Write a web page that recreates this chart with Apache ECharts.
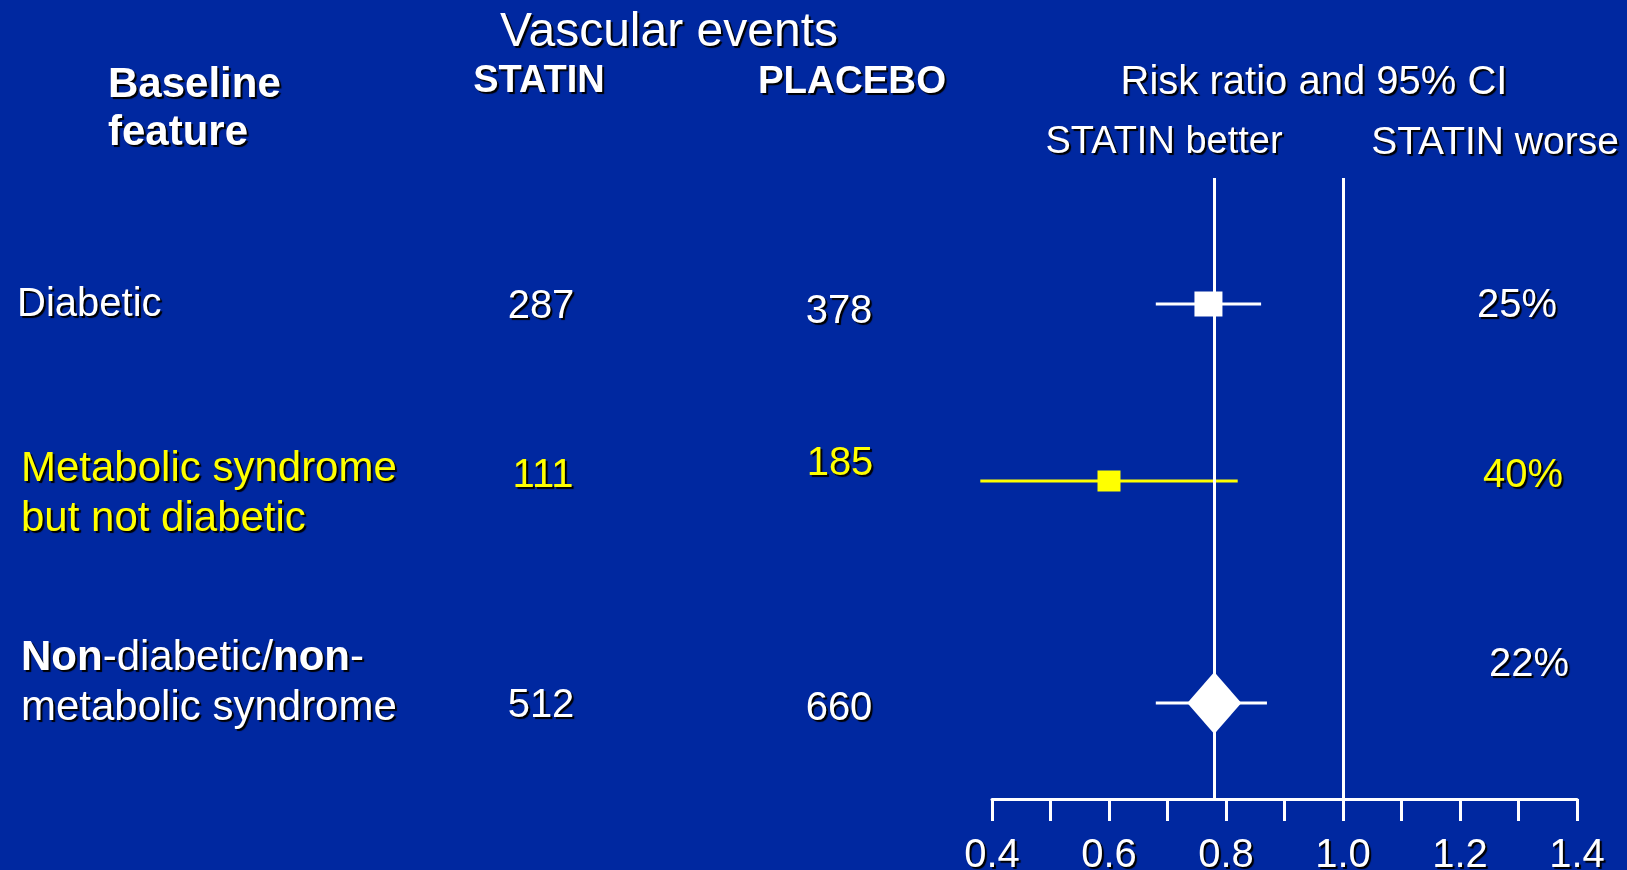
<!DOCTYPE html>
<html>
<head>
<meta charset="utf-8">
<script src="https://cdn.jsdelivr.net/npm/echarts@6/dist/echarts.min.js"></script>
<style>
html, body { margin: 0; padding: 0; background: #0028a0; }
#chart { width: 1627px; height: 870px; }
</style>
</head>
<body>
<div id="chart"></div>
<script>
// ---- data ----
const categories = ['Diabetic', 'Metabolic syndrome but not diabetic', 'Non-diabetic/non-metabolic syndrome'];
const statinEvents = [287, 111, 512];
const placeboEvents = [378, 185, 660];
const riskRatio = [0.77, 0.60, 0.78];
const ciLow = [0.68, 0.38, 0.68];
const ciHigh = [0.86, 0.82, 0.87];
const reduction = ['25%', '40%', '22%'];
const overallRR = 0.78;
const nullRR = 1.0;
const xMin = 0.4, xMax = 1.4, xStep = 0.1;
const tickLabels = ['0.4', '0.6', '0.8', '1.0', '1.2', '1.4'];

// ---- layout / style ----
const FONT = 'Liberation Sans, Arial, sans-serif';
const BG = '#0028a0';
const YELLOW = '#ffff00';
const rowColor = ['#ffffff', YELLOW, '#ffffff'];
const rowSymbol = ['rect', 'rect', 'diamond'];
const rowSymbolSize = [[28, 25], [23, 21], [54, 62]];
const rowCenterY = [304, 481, 703];
const rowLabelText = ['Diabetic', 'Metabolic syndrome\nbut not diabetic', '{b|Non}-diabetic/{b|non}-\nmetabolic syndrome'];
const rowLabelSize = [40, 42, 42];
const rowLabelPos = [[17, 305], [21, 494], [21, 683]];
const statinPos = [[541, 307], [543, 476], [541, 706]];
const placeboPos = [[839, 312], [840, 464], [839, 709]];
const pctPos = [[1517, 306], [1523, 476], [1529, 665]];
const PLOT_LEFT = 992, PLOT_RIGHT = 50;

const shadow = { textShadowColor: '#000', textShadowOffsetX: 2, textShadowOffsetY: 2, textShadowBlur: 1 };

function txt(text, x, y, opts) {
  return {
    type: 'text', x: x, y: y, silent: true,
    style: Object.assign({
      text: text, fill: '#fff', fontFamily: FONT, fontSize: 40, fontWeight: 'normal',
      textAlign: 'left', textVerticalAlign: 'middle', verticalAlign: 'middle'
    }, shadow, opts || {})
  };
}

const graphics = [
  txt('Vascular events', 669, 33, { fontSize: 48, textAlign: 'center' }),
  txt('Baseline', 108, 85, { fontSize: 42, fontWeight: 'bold' }),
  txt('feature', 108, 133, { fontSize: 42, fontWeight: 'bold' }),
  txt('STATIN', 539, 82, { fontSize: 38, fontWeight: 'bold', textAlign: 'center' }),
  txt('PLACEBO', 852, 82, { fontSize: 38.5, fontWeight: 'bold', textAlign: 'center' }),
  txt('Risk ratio and 95% CI', 1314, 83, { fontSize: 40, textAlign: 'center' }),
  txt('STATIN better', 1164, 143, { fontSize: 38, textAlign: 'center' }),
  txt('STATIN worse', 1495, 143, { fontSize: 39, textAlign: 'center' })
];
categories.forEach(function (c, i) {
  graphics.push(txt(rowLabelText[i], rowLabelPos[i][0], rowLabelPos[i][1], {
    fontSize: rowLabelSize[i], fill: rowColor[i], lineHeight: 50,
    rich: { b: Object.assign({ fontWeight: 'bold', fontSize: rowLabelSize[i], fontFamily: FONT, fill: rowColor[i], lineHeight: 50 }, shadow) }
  }));
  graphics.push(txt(String(statinEvents[i]), statinPos[i][0], statinPos[i][1], { fontSize: 40, fill: rowColor[i], textAlign: 'center' }));
  graphics.push(txt(String(placeboEvents[i]), placeboPos[i][0], placeboPos[i][1], { fontSize: 40, fill: rowColor[i], textAlign: 'center' }));
  graphics.push(txt(reduction[i], pctPos[i][0], pctPos[i][1], { fontSize: 40, fill: rowColor[i], textAlign: 'center' }));
});

const grids = [{ left: PLOT_LEFT, right: PLOT_RIGHT, top: 178, bottom: 71, containLabel: false, outerBoundsMode: 'none' }];
const xAxes = [{
  type: 'value', gridIndex: 0, min: xMin, max: xMax, interval: xStep,
  splitLine: { show: false },
  axisLine: { show: true, onZero: false, lineStyle: { color: '#fff', width: 3 } },
  axisTick: { show: true, length: 22, lineStyle: { color: '#fff', width: 3 } },
  axisLabel: {
    color: '#fff', fontSize: 40, fontFamily: FONT, margin: 37,
    textShadowColor: '#000', textShadowOffsetX: 2, textShadowOffsetY: 2, textShadowBlur: 1,
    formatter: function (v) {
      const s = v.toFixed(1);
      return tickLabels.indexOf(s) >= 0 ? s : '';
    }
  }
}];
const yAxes = [{ type: 'value', gridIndex: 0, min: 0, max: 1, show: false }];
const series = [{
  type: 'line', xAxisIndex: 0, yAxisIndex: 0, data: [], silent: true,
  markLine: {
    symbol: 'none', silent: true, animation: false,
    label: { show: false },
    lineStyle: { color: '#fff', width: 3, type: 'solid' },
    data: [{ xAxis: overallRR }, { xAxis: nullRR }]
  }
}];

categories.forEach(function (c, i) {
  const g = i + 1;
  grids.push({ left: PLOT_LEFT, right: PLOT_RIGHT, top: rowCenterY[i] - 40, height: 80, containLabel: false, outerBoundsMode: 'none' });
  xAxes.push({ type: 'value', gridIndex: g, min: xMin, max: xMax, show: false, splitLine: { show: false } });
  yAxes.push({ type: 'category', gridIndex: g, data: [c], show: false });
  series.push({
    type: 'line', xAxisIndex: g, yAxisIndex: g, symbol: 'none', silent: true, clip: false,
    lineStyle: { color: rowColor[i], width: 3 },
    data: [[ciLow[i], c], [ciHigh[i], c]]
  });
  series.push({
    type: 'scatter', xAxisIndex: g, yAxisIndex: g, silent: true, clip: false,
    symbol: rowSymbol[i], symbolSize: rowSymbolSize[i],
    itemStyle: { color: rowColor[i], opacity: 1 },
    data: [[riskRatio[i], c]]
  });
});

const chart = echarts.init(document.getElementById('chart'), null, { renderer: 'canvas' });
chart.setOption({
  backgroundColor: BG,
  animation: false,
  grid: grids,
  xAxis: xAxes,
  yAxis: yAxes,
  series: series,
  graphic: graphics
});
</script>
</body>
</html>
